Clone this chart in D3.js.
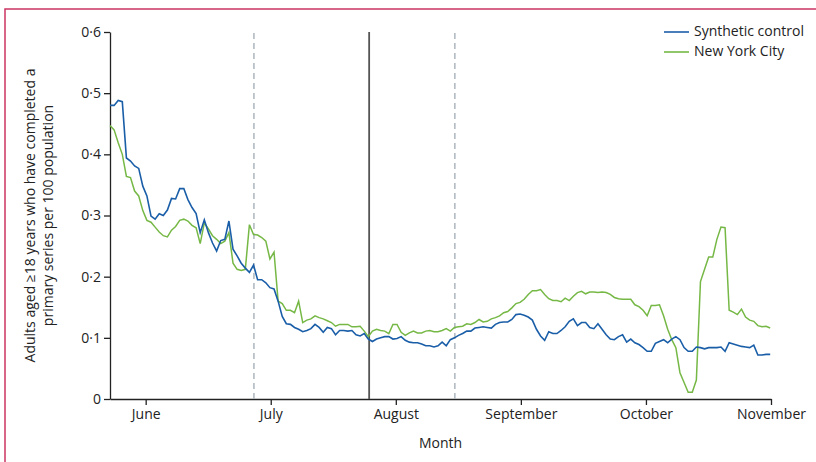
<!DOCTYPE html>
<html>
<head>
<meta charset="utf-8">
<script src="https://cdn.jsdelivr.net/npm/d3@7"></script>
<style>
  html, body { margin: 0; padding: 0; background: #fff; }
  svg text { font-family: "Open Sans", "Liberation Sans", sans-serif; fill: #222; }
</style>
</head>
<body>
<svg id="chart"></svg>
<script>
// Daily values, one per day starting late May (day 0) up to 1 November.
const syntheticControl = [
  0.480, 0.480, 0.488, 0.486, 0.394, 0.389, 0.381, 0.377, 0.348, 0.332,
  0.299, 0.294, 0.303, 0.300, 0.309, 0.328, 0.327, 0.344, 0.344, 0.326,
  0.313, 0.303, 0.272, 0.293, 0.272, 0.255, 0.242, 0.259, 0.261, 0.291,
  0.245, 0.234, 0.222, 0.214, 0.207, 0.219, 0.195, 0.195, 0.190, 0.182,
  0.180, 0.160, 0.135, 0.123, 0.122, 0.117, 0.114, 0.110, 0.112, 0.115,
  0.122, 0.117, 0.109, 0.117, 0.115, 0.105, 0.112, 0.112, 0.111, 0.112,
  0.105, 0.103, 0.107, 0.098, 0.094, 0.098, 0.100, 0.102, 0.102, 0.098,
  0.099, 0.102, 0.096, 0.093, 0.092, 0.092, 0.090, 0.087, 0.087, 0.085,
  0.087, 0.093, 0.087, 0.097, 0.100, 0.104, 0.107, 0.111, 0.111, 0.116,
  0.117, 0.118, 0.117, 0.116, 0.122, 0.125, 0.126, 0.126, 0.130, 0.138,
  0.139, 0.137, 0.134, 0.129, 0.114, 0.103, 0.096, 0.110, 0.107, 0.107,
  0.112, 0.118, 0.127, 0.131, 0.120, 0.125, 0.125, 0.117, 0.115, 0.123,
  0.114, 0.105, 0.098, 0.097, 0.102, 0.105, 0.093, 0.098, 0.092, 0.089,
  0.084, 0.078, 0.078, 0.091, 0.094, 0.097, 0.092, 0.098, 0.102, 0.097,
  0.084, 0.078, 0.078, 0.085, 0.084, 0.082, 0.084, 0.084, 0.084, 0.085,
  0.078, 0.092, 0.090, 0.088, 0.086, 0.085, 0.084, 0.088, 0.072, 0.072,
  0.073, 0.073,
];

const newYorkCity = [
  0.447, 0.440, 0.419, 0.400, 0.364, 0.362, 0.340, 0.332, 0.308, 0.292,
  0.289, 0.281, 0.273, 0.267, 0.265, 0.276, 0.282, 0.292, 0.294, 0.291,
  0.284, 0.280, 0.254, 0.288, 0.278, 0.267, 0.261, 0.254, 0.258, 0.272,
  0.222, 0.212, 0.210, 0.212, 0.285, 0.269, 0.268, 0.264, 0.258, 0.229,
  0.240, 0.160, 0.156, 0.145, 0.145, 0.141, 0.160, 0.125, 0.129, 0.131,
  0.136, 0.133, 0.131, 0.128, 0.125, 0.119, 0.122, 0.122, 0.122, 0.118,
  0.118, 0.119, 0.111, 0.102, 0.111, 0.114, 0.112, 0.111, 0.107, 0.122,
  0.122, 0.109, 0.104, 0.108, 0.111, 0.108, 0.108, 0.111, 0.112, 0.110,
  0.110, 0.112, 0.115, 0.111, 0.117, 0.118, 0.119, 0.123, 0.122, 0.125,
  0.130, 0.126, 0.127, 0.131, 0.133, 0.136, 0.141, 0.143, 0.149, 0.156,
  0.158, 0.163, 0.171, 0.177, 0.177, 0.179, 0.171, 0.164, 0.161, 0.161,
  0.159, 0.165, 0.161, 0.168, 0.174, 0.176, 0.172, 0.175, 0.175, 0.174,
  0.175, 0.174, 0.171, 0.166, 0.164, 0.163, 0.163, 0.163, 0.154, 0.151,
  0.145, 0.136, 0.153, 0.153, 0.154, 0.136, 0.114, 0.097, 0.084, 0.043,
  0.027, 0.011, 0.011, 0.031, 0.192, 0.212, 0.232, 0.232, 0.261, 0.281,
  0.280, 0.145, 0.142, 0.138, 0.147, 0.134, 0.129, 0.127, 0.120, 0.118,
  0.119, 0.116,
];

const monthLabels = ['June', 'July', 'August', 'September', 'October', 'November'];
const monthTickDays = [8.7, 39.2, 69.7, 100.2, 130.7, 161.2];

// Reference lines (day index) and how they are drawn.
const eventDays = [35.1, 63.2, 84.1];
const eventKinds = ['dashed', 'solid', 'dashed'];

const yTicks = [0, 0.1, 0.2, 0.3, 0.4, 0.5, 0.6];

const seriesNames = ['Synthetic control', 'New York City'];
const seriesColors = ['#1a5ea8', '#76b846'];

const width = 816;
const height = 462;
const margin = { top: 32, right: 45, bottom: 63, left: 110 };

const svg = d3.select('#chart')
  .attr('width', width)
  .attr('height', height)
  .attr('viewBox', `0 0 ${width} ${height}`);

// Frame line along the top and left edges.
svg.append('path')
  .attr('d', `M5,${height} L5,9 L${width},9`)
  .attr('fill', 'none')
  .attr('stroke', '#cc3462')
  .attr('stroke-width', 1.5);

const xScale = d3.scaleLinear()
  .domain([0, 161.2])
  .range([margin.left, width - margin.right]);

const yScale = d3.scaleLinear()
  .domain([0, 0.6])
  .range([height - margin.bottom, margin.top]);

const fmt = (v) => (v === 0 ? '0' : d3.format('.1f')(v).replace('.', '\u00b7'));

// Y axis.
const yAxis = d3.axisLeft(yScale)
  .tickValues(yTicks)
  .tickFormat(fmt)
  .tickSize(6)
  .tickSizeOuter(0)
  .tickPadding(3);

const gy = svg.append('g')
  .attr('transform', `translate(${margin.left},0)`)
  .call(yAxis);
gy.selectAll('text').style('font-size', '14px');

// X axis.
const xAxis = d3.axisBottom(xScale)
  .tickValues(monthTickDays)
  .tickFormat((d, i) => monthLabels[i])
  .tickSize(6)
  .tickSizeOuter(0)
  .tickPadding(4);

const gx = svg.append('g')
  .attr('transform', `translate(0,${yScale(0)})`)
  .call(xAxis);
gx.selectAll('text').style('font-size', '14px');

svg.selectAll('.domain, .tick line')
  .attr('stroke', '#222')
  .attr('stroke-width', 1.3);

// Vertical reference lines.
svg.append('g')
  .selectAll('line')
  .data(eventDays)
  .join('line')
  .attr('x1', (d) => xScale(d))
  .attr('x2', (d) => xScale(d))
  .attr('y1', yScale(0))
  .attr('y2', yScale(0.6))
  .attr('stroke', (d, i) => (eventKinds[i] === 'solid' ? '#555' : '#adb7be'))
  .attr('stroke-width', (d, i) => (eventKinds[i] === 'solid' ? 1.8 : 1.5))
  .attr('stroke-dasharray', (d, i) => (eventKinds[i] === 'solid' ? null : '6,4'));

// Series lines.
const line = d3.line()
  .x((d, i) => xScale(i))
  .y((d) => yScale(d));

svg.append('path')
  .datum(newYorkCity)
  .attr('d', line)
  .attr('fill', 'none')
  .attr('stroke', seriesColors[1])
  .attr('stroke-width', 1.5);

svg.append('path')
  .datum(syntheticControl)
  .attr('d', line)
  .attr('fill', 'none')
  .attr('stroke', seriesColors[0])
  .attr('stroke-width', 1.6);

// Legend.
const legend = svg.append('g').attr('transform', 'translate(664,32)');
seriesNames.forEach((name, i) => {
  const g = legend.append('g').attr('transform', `translate(0,${i * 20})`);
  g.append('line')
    .attr('x1', 0)
    .attr('x2', 25)
    .attr('stroke', seriesColors[i])
    .attr('stroke-width', 1.6);
  g.append('text')
    .attr('x', 30)
    .attr('dy', '0.32em')
    .style('font-size', '14px')
    .text(name);
});

// Axis titles.
svg.append('text')
  .attr('x', (margin.left + width - margin.right) / 2)
  .attr('y', 448)
  .attr('text-anchor', 'middle')
  .style('font-size', '14px')
  .text('Month');

const yTitle = svg.append('text')
  .attr('transform', `translate(0,${(yScale(0) + yScale(0.6)) / 2}) rotate(-90)`)
  .attr('text-anchor', 'middle')
  .style('font-size', '14px');
yTitle.append('tspan').attr('x', 0).attr('y', 35).text('Adults aged \u226518 years who have completed a');
yTitle.append('tspan').attr('x', 0).attr('y', 53).text('primary series per 100 population');
</script>
</body>
</html>
